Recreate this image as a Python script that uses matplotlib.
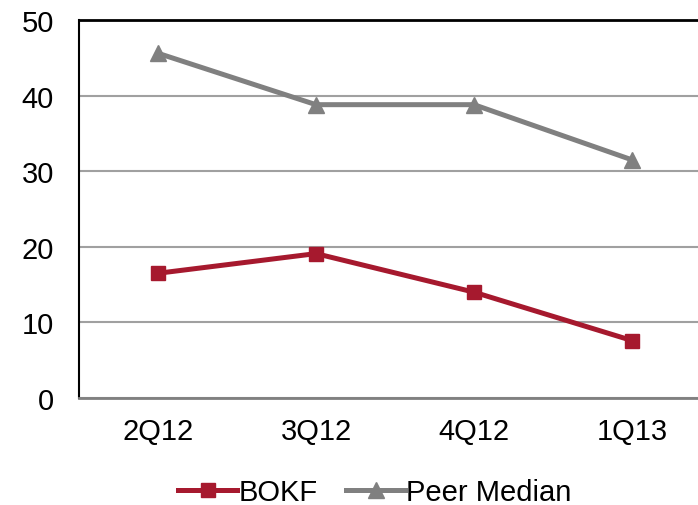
import matplotlib
matplotlib.use("Agg")
import matplotlib.pyplot as plt

# Dados do gráfico
trimestres = ["2Q12", "3Q12", "4Q12", "1Q13"]
bokf = [16.5, 19.1, 14.0, 7.6]
peer_median = [45.6, 38.8, 38.8, 31.5]

plt.rcParams['font.family'] = ['Liberation Sans', 'DejaVu Sans']

fig = plt.figure(figsize=(6.98, 5.06), dpi=100)
ax = fig.add_axes([79 / 698, 1 - 399 / 506, 632 / 698, 378 / 506])

x = range(len(trimestres))
ax.plot(x, bokf, color='#A6192E', lw=3.6, marker='s', markersize=10,
        label='BOKF')
ax.plot(x, peer_median, color='#808080', lw=3.6, marker='^', markersize=11,
        label='Peer Median')

ax.set_xlim(-0.5, 3.5)
ax.set_ylim(0, 50)
ax.set_yticks(range(0, 51, 10))
ax.set_xticks(list(x))
ax.set_xticklabels(trimestres)
ax.tick_params(length=0, labelsize=21)
ax.tick_params(axis='x', pad=14)
ax.tick_params(axis='y', pad=18)
ax.yaxis.grid(True, color='#A0A0A0', lw=1.5)
ax.set_axisbelow(True)

ax.spines['left'].set_color('black')
ax.spines['left'].set_linewidth(1.5)
ax.spines['top'].set_color('black')
ax.spines['top'].set_linewidth(2)
ax.spines['bottom'].set_color('#808080')
ax.spines['bottom'].set_linewidth(2)
ax.spines['right'].set_visible(False)

fig.legend(loc='center', bbox_to_anchor=(375 / 698, 1 - 493 / 506), ncol=2,
           frameon=False, fontsize=21, handlelength=2.0, handletextpad=0.05,
           columnspacing=1.0)

fig.savefig('out.png', dpi=100)
